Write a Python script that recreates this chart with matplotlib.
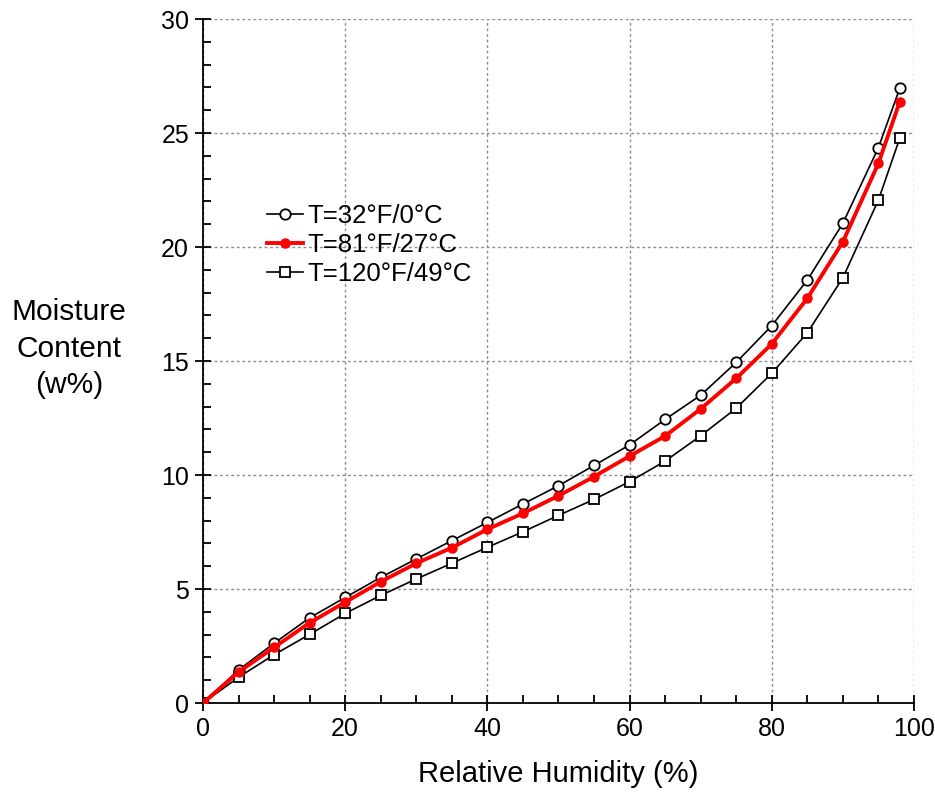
import matplotlib.pyplot as plt
from matplotlib.ticker import MultipleLocator

plt.rcParams['font.family'] = ['Liberation Sans', 'DejaVu Sans']

# relative humidity (%)
rh = [0, 5, 10, 15, 20, 25, 30, 35, 40, 45, 50, 55, 60, 65, 70, 75, 80, 85, 90, 95, 98]

# moisture content (w%) for each temperature
mc_32f = [0, 1.45, 2.62, 3.74, 4.63, 5.51, 6.32, 7.12, 7.92, 8.73, 9.53, 10.42, 11.32,
          12.44, 13.5, 14.94, 16.55, 18.55, 21.04, 24.36, 26.96]
mc_81f = [0, 1.36, 2.44, 3.52, 4.42, 5.32, 6.13, 6.81, 7.62, 8.32, 9.09, 9.93, 10.83,
          11.71, 12.9, 14.24, 15.75, 17.75, 20.23, 23.67, 26.37]
mc_120f = [0, 1.13, 2.12, 3.01, 3.93, 4.72, 5.44, 6.13, 6.83, 7.51, 8.23, 8.93, 9.71,
           10.61, 11.72, 12.93, 14.46, 16.24, 18.65, 22.06, 24.77]

labels = ['T=32°F/0°C', 'T=81°F/27°C', 'T=120°F/49°C']

fig = plt.figure(figsize=(9.35, 7.96), dpi=100)
ax = fig.add_axes([0.2171, 0.1168, 0.7604, 0.8593])

ax.plot(rh, mc_32f, color='black', lw=1.2, marker='o', ms=7.5,
        mfc='white', mec='black', mew=1.3, label=labels[0], zorder=3)
ax.plot(rh, mc_81f, color='red', lw=2.8, marker='o', ms=6.5,
        mfc='red', mec='red', label=labels[1], zorder=4)
ax.plot(rh, mc_120f, color='black', lw=1.2, marker='s', ms=7.5,
        mfc='white', mec='black', mew=1.3, label=labels[2], zorder=3)

ax.set_xlim(0, 100)
ax.set_ylim(0, 30)
ax.xaxis.set_major_locator(MultipleLocator(20))
ax.xaxis.set_minor_locator(MultipleLocator(5))
ax.yaxis.set_major_locator(MultipleLocator(5))
ax.yaxis.set_minor_locator(MultipleLocator(1))

ax.spines['top'].set_visible(False)
ax.spines['right'].set_visible(False)
for s in ['left', 'bottom']:
    ax.spines[s].set_linewidth(1.3)

ax.tick_params(which='major', direction='inout', length=12, width=1.3, labelsize=18, pad=4)
ax.tick_params(which='minor', direction='in', length=6, width=1.3)

ax.grid(True, which='major', color='#8c8c8c', linestyle=(0, (2, 2)), lw=1.0)
ax.set_axisbelow(True)

ax.set_xlabel('Relative Humidity (%)', fontsize=21, labelpad=14)
ax.set_ylabel('Moisture\nContent\n(w%)', fontsize=21.5, rotation=0, ha='center', va='center',
              linespacing=1.38)
ax.yaxis.set_label_coords(-0.188, 0.518)

leg = ax.legend(loc='upper left', bbox_to_anchor=(0.075, 0.745), frameon=False,
                fontsize=18.5, handlelength=1.4, handletextpad=0.2, labelspacing=0.2,
                borderaxespad=0)

plt.savefig('out.png', dpi=100)
